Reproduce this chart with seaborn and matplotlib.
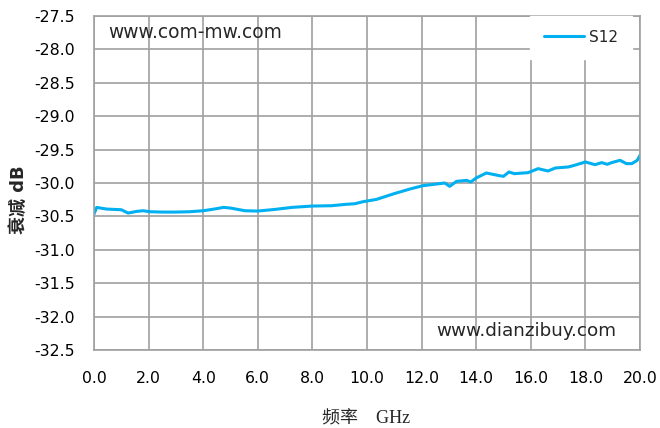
import pandas as pd
import matplotlib
matplotlib.use("Agg")
import matplotlib.pyplot as plt
import seaborn as sns

# ----------------------------
# Data
# ----------------------------
freq_ghz = [0.0, 0.1, 0.46, 1.0, 1.25, 1.56, 1.8, 2.05, 2.5, 3.0,
            3.5, 4.0, 4.4, 4.75, 5.0, 5.53, 6.0, 6.63, 7.25, 7.98,
            8.7, 9.2, 9.56, 9.85, 10.35, 10.95, 11.57, 12.05, 12.55, 12.85,
            13.03, 13.28, 13.65, 13.8, 14.0, 14.37, 14.85, 15.0, 15.2, 15.4,
            15.9, 16.27, 16.63, 16.9, 17.37, 17.6, 18.0, 18.35, 18.6, 18.8,
            18.96, 19.27, 19.5, 19.7, 19.9, 20.0]
s12_db = [-30.465, -30.365, -30.39, -30.40, -30.45, -30.425, -30.415, -30.43, -30.435, -30.435,
          -30.43, -30.415, -30.39, -30.365, -30.375, -30.415, -30.42, -30.395, -30.365, -30.345,
          -30.34, -30.32, -30.31, -30.28, -30.245, -30.165, -30.09, -30.04, -30.015, -30.0,
          -30.05, -29.975, -29.96, -29.985, -29.925, -29.85, -29.89, -29.90, -29.835, -29.86,
          -29.845, -29.785, -29.82, -29.775, -29.76, -29.735, -29.685, -29.725, -29.695, -29.72,
          -29.695, -29.66, -29.71, -29.71, -29.66, -29.585]

x_ticks = [0, 2, 4, 6, 8, 10, 12, 14, 16, 18, 20]
y_ticks = [-32.5, -32.0, -31.5, -31.0, -30.5, -30.0, -29.5, -29.0, -28.5, -28.0, -27.5]

df = pd.DataFrame({"freq": freq_ghz, "s12": s12_db})

# ----------------------------
# Style
# ----------------------------
sns.set_style("white")
plt.rcParams['font.family'] = ['DejaVu Sans', 'Noto Sans CJK SC']

grid_col = "#a0a0a0"
line_col = "#00b0f0"

fig = plt.figure(figsize=(6.6, 4.28), dpi=100)
ax = fig.add_axes([0.1424, 0.1822, 0.8273, 0.7804])

sns.lineplot(data=df, x="freq", y="s12", ax=ax, color=line_col,
             linewidth=2.2, label="S12")

ax.set_xlim(0, 20)
ax.set_ylim(-32.5, -27.5)
ax.set_xticks(x_ticks)
ax.set_yticks(y_ticks)
ax.set_xticklabels([f"{v:.1f}" for v in x_ticks])
ax.set_yticklabels([f"{v:.1f}" for v in y_ticks])

ax.grid(True, color=grid_col, linewidth=1.2)
ax.set_axisbelow(True)
for sp in ax.spines.values():
    sp.set_color(grid_col)
    sp.set_linewidth(1.2)

ax.tick_params(axis="both", direction="out", length=5, width=1.2,
               color=grid_col, labelsize=11.3, labelcolor="#000000")
ax.tick_params(axis="x", pad=10)
ax.tick_params(axis="y", pad=9)

ax.set_xlabel("频率　GHz", fontsize=13,
              family=['Liberation Serif', 'Noto Sans CJK SC'])
ax.xaxis.set_label_coords(0.498, -0.18)
ax.set_ylabel("衰减 dB", fontsize=13, fontweight="bold",
              family=['DejaVu Sans', 'Noto Sans CJK SC'])
ax.yaxis.set_label_coords(-0.12, 0.449)

# watermarks
ax.text(0.026, 0.952, "www.com-mw.com", transform=ax.transAxes,
        fontsize=13.4, ha="left", va="center")
ax.text(0.626, 0.057, "www.dianzibuy.com", transform=ax.transAxes,
        fontsize=13.2, ha="left", va="center")

leg = ax.legend(loc="upper right", bbox_to_anchor=(0.985, 1.0),
                borderaxespad=0, frameon=True, fancybox=False, fontsize=11,
                handlelength=2.6, handletextpad=0.35, borderpad=0.9)
leg.get_frame().set_facecolor("white")
leg.get_frame().set_edgecolor("white")
leg.get_frame().set_alpha(1.0)

fig.savefig("out.png", dpi=100)
